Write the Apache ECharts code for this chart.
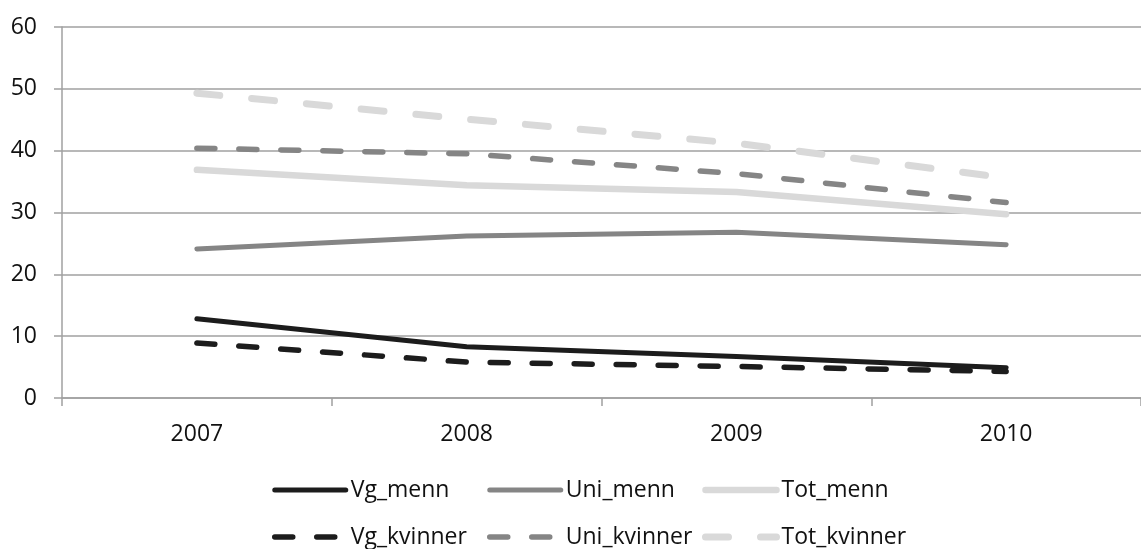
<!DOCTYPE html>
<html>
<head>
<meta charset="utf-8">
<script src="https://cdn.jsdelivr.net/npm/echarts@6/dist/echarts.min.js"></script>
<style>
html,body{margin:0;padding:0;background:#fff;}
#chart{width:1141px;height:549px;}
</style>
</head>
<body>
<div id="chart"></div>
<script>
const years = ['2007', '2008', '2009', '2010'];
const yTicks = [0, 10, 20, 30, 40, 50, 60];
const vgMenn = [12.8, 8.3, 6.7, 4.9];
const uniMenn = [24.1, 26.2, 26.8, 24.8];
const totMenn = [36.9, 34.4, 33.3, 29.7];
const vgKvinner = [8.9, 5.8, 5.1, 4.3];
const uniKvinner = [40.4, 39.5, 36.3, 31.6];
const totKvinner = [49.3, 45.1, 41.2, 35.6];

const FONT = '"Open Sans", "Liberation Sans", sans-serif';
const AX = '#a0a0a0';
const C_VG = '#1c1c1c', C_UNI = '#858585', C_TOT = '#d9d9d9';

const styles = {
  'Vg_menn':     { color: C_VG,  width: 5,   dash: 'solid' },
  'Uni_menn':    { color: C_UNI, width: 5,   dash: 'solid' },
  'Tot_menn':    { color: C_TOT, width: 6.5, dash: 'solid' },
  'Vg_kvinner':  { color: C_VG,  width: 5.5, dash: [18, 24] },
  'Uni_kvinner': { color: C_UNI, width: 5.5, dash: [18, 24] },
  'Tot_kvinner': { color: C_TOT, width: 7,   dash: [23, 32] }
};

function mkSeries(name, data) {
  const s = styles[name];
  return {
    name: name, type: 'line', data: data,
    symbol: 'none', smooth: false, animation: false,
    lineStyle: { color: s.color, width: s.width, type: s.dash, cap: 'round', join: 'round' },
    itemStyle: { color: s.color }
  };
}
function mkLegend(left, names) {
  return {
    orient: 'vertical', left: left, top: 478, padding: 0,
    itemWidth: 71, itemHeight: 24, itemGap: 23,
    itemStyle: { opacity: 0 },
    textStyle: { fontFamily: FONT, fontSize: 23, color: '#111', lineHeight: 24 },
    data: names.map(function (n) {
      const s = styles[n];
      return {
        name: n,
        itemStyle: { opacity: 0 },
        lineStyle: { color: s.color, width: s.width, type: s.dash, cap: 'round', opacity: 1 }
      };
    })
  };
}

const chart = echarts.init(document.getElementById('chart'), null, { renderer: 'canvas' });
chart.setOption({
  backgroundColor: '#fff',
  animation: false,
  grid: { left: 62, right: -11, top: 27, bottom: 151, containLabel: false },
  legend: [
    mkLegend(272, ['Vg_menn', 'Vg_kvinner']),
    mkLegend(487, ['Uni_menn', 'Uni_kvinner']),
    mkLegend(702, ['Tot_menn', 'Tot_kvinner'])
  ],
  xAxis: {
    type: 'category', data: years, boundaryGap: true,
    axisLine: { show: true, lineStyle: { color: AX, width: 1.5 } },
    axisTick: { show: true, length: 8, lineStyle: { color: AX, width: 1.5 } },
    axisLabel: { fontFamily: FONT, fontSize: 23, color: '#111', margin: 25 },
    splitLine: { show: false }
  },
  yAxis: {
    type: 'value', min: yTicks[0], max: yTicks[yTicks.length - 1], interval: 10,
    axisLine: { show: true, lineStyle: { color: AX, width: 1.5 } },
    axisTick: { show: true, length: 8, lineStyle: { color: AX, width: 1.5 } },
    axisLabel: { fontFamily: FONT, fontSize: 23, color: '#111', margin: 25 },
    splitLine: { show: true, lineStyle: { color: AX, width: 1.5 } }
  },
  series: [
    mkSeries('Vg_menn', vgMenn),
    mkSeries('Uni_menn', uniMenn),
    mkSeries('Tot_menn', totMenn),
    mkSeries('Vg_kvinner', vgKvinner),
    mkSeries('Uni_kvinner', uniKvinner),
    mkSeries('Tot_kvinner', totKvinner)
  ]
});
</script>
</body>
</html>
